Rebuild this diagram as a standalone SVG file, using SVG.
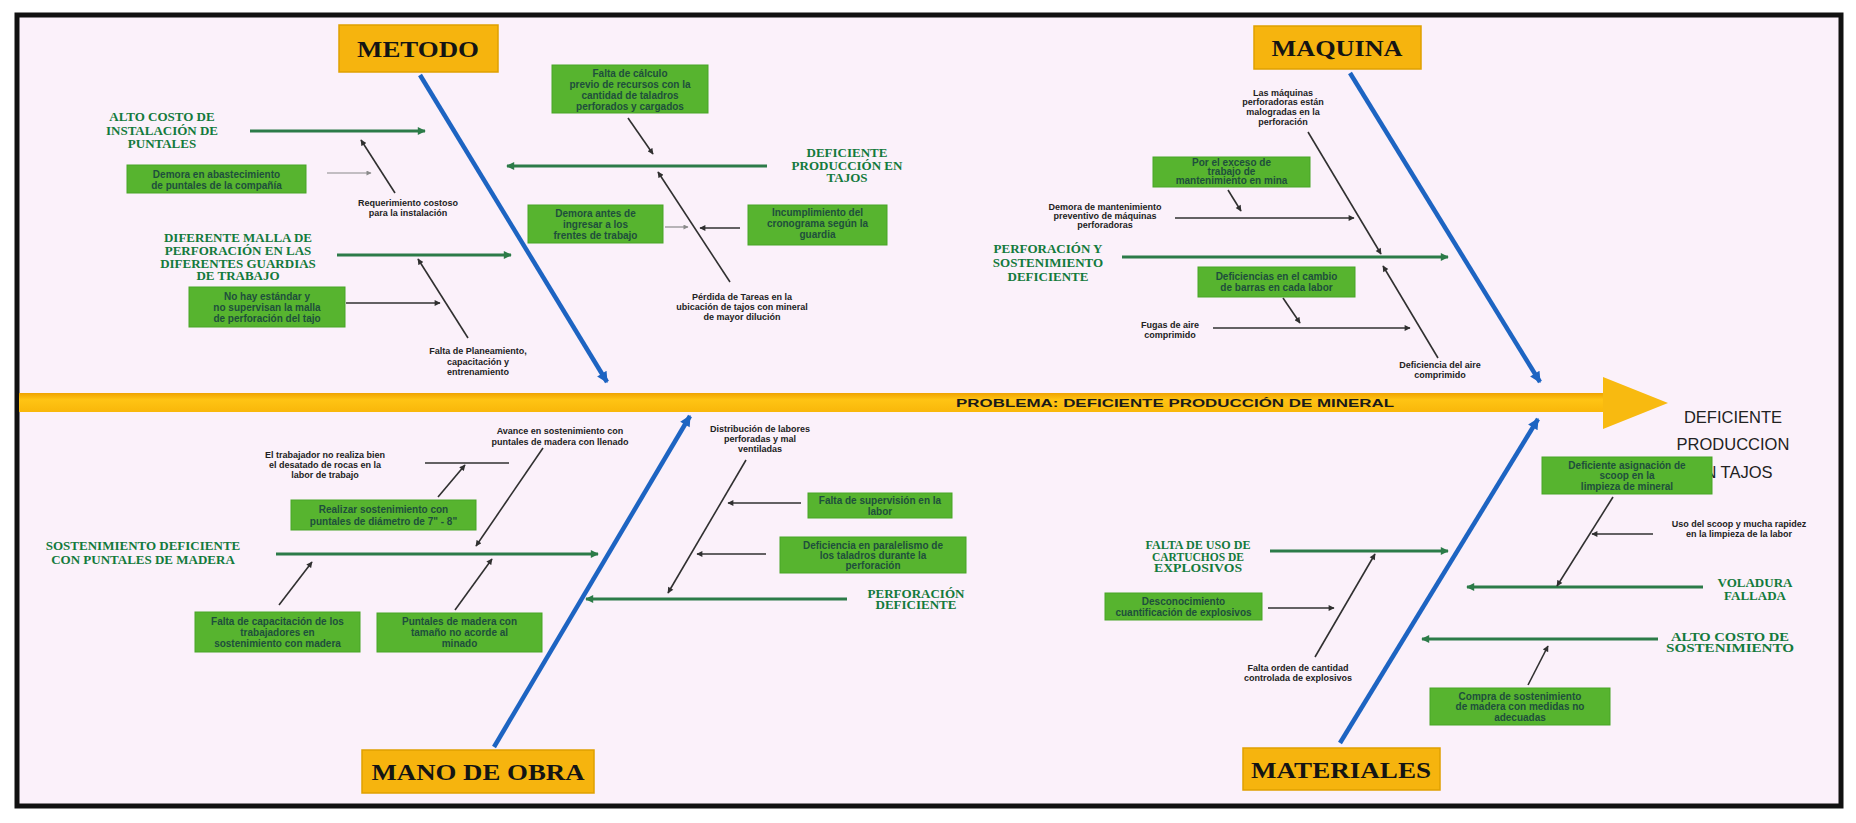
<svg xmlns="http://www.w3.org/2000/svg" width="1856" height="823" viewBox="0 0 1856 823">
  <defs>
    <style>
      .frame { fill: #FBF1FA; stroke: #111; stroke-width: 5; }
      .cat rect { fill: #F6B40E; stroke: #DFA000; stroke-width: 1.5; }
      .cat text { font-family: "Liberation Serif", "Times New Roman", serif; font-weight: bold; font-size: 24px; fill: #141414; text-anchor: middle; }
      .gb rect { fill: #57B42F; stroke: #49A526; stroke-width: 1; }
      .gb text { font-family: "Liberation Sans", Arial, sans-serif; font-weight: bold; font-size: 10px; fill: #1E4F3C; text-anchor: middle; }
      .lbl text { font-family: "Liberation Serif", "Times New Roman", serif; font-weight: bold; font-size: 13px; fill: #137A3C; text-anchor: middle; }
      .sm text { font-family: "Liberation Sans", Arial, sans-serif; font-weight: bold; font-size: 9px; fill: #222; text-anchor: middle; }
      .bone { stroke: #1D64C2; stroke-width: 4.5; fill: none; marker-end: url(#ab); }
      .br { stroke: #2C7B48; stroke-width: 3; fill: none; marker-end: url(#ag); }
      .sub { stroke: #303030; stroke-width: 1.6; fill: none; marker-end: url(#ak); }
      .plain { stroke: #303030; stroke-width: 1.6; fill: none; }
      .gr { stroke: #8A8A8A; stroke-width: 1.2; fill: none; marker-end: url(#agr); }
      .title text { font-family: "Liberation Sans", Arial, sans-serif; font-size: 16.5px; fill: #222; text-anchor: middle; }
    </style>
    <linearGradient id="spine" x1="0" y1="0" x2="0" y2="1">
      <stop offset="0" stop-color="#EFA300"/>
      <stop offset="0.35" stop-color="#FFC414"/>
      <stop offset="1" stop-color="#F9B70A"/>
    </linearGradient>
    <marker id="ab" viewBox="0 0 10 10" refX="9" refY="5" markerUnits="userSpaceOnUse" markerWidth="13" markerHeight="11" orient="auto">
      <path d="M0,0 L10,5 L0,10 z" fill="#1D64C2"/>
    </marker>
    <marker id="ag" viewBox="0 0 10 10" refX="9" refY="5" markerUnits="userSpaceOnUse" markerWidth="9" markerHeight="8" orient="auto">
      <path d="M0,0 L10,5 L0,10 z" fill="#2C7B48"/>
    </marker>
    <marker id="ak" viewBox="0 0 10 10" refX="9" refY="5" markerUnits="userSpaceOnUse" markerWidth="7" markerHeight="6" orient="auto">
      <path d="M0,0 L10,5 L0,10 z" fill="#303030"/>
    </marker>
    <marker id="agr" viewBox="0 0 10 10" refX="9" refY="5" markerUnits="userSpaceOnUse" markerWidth="6" markerHeight="5" orient="auto">
      <path d="M0,0 L10,5 L0,10 z" fill="#8A8A8A"/>
    </marker>
  </defs>

  <!-- page and frame -->
  <rect x="0" y="0" width="1856" height="823" fill="#FFFFFF"/>
  <rect class="frame" x="17" y="15" width="1824" height="791"/>

  <!-- main spine -->
  <g id="spine-arrow">
    <rect x="19" y="393" width="1586" height="19" fill="url(#spine)"/>
    <polygon points="1603,377 1668,403 1603,429" fill="#F8BA10"/>
    <text x="1175" y="407" text-anchor="middle" font-family="Liberation Sans, Arial, sans-serif" font-weight="bold" font-size="11" fill="#1a1a1a" textLength="438" lengthAdjust="spacingAndGlyphs">PROBLEMA: DEFICIENTE PRODUCCIÓN DE MINERAL</text>
  </g>

  <!-- effect -->
  <g id="efecto" class="title">
    <text x="1733" y="423">DEFICIENTE</text>
    <text x="1733" y="450">PRODUCCION</text>
    <text x="1733" y="478">EN TAJOS</text>
  </g>

  <!-- connectors -->
  <g id="connectors">
    <!-- category bones -->
    <line class="bone" x1="420" y1="75" x2="607" y2="382"/>
    <line class="bone" x1="1350" y1="73" x2="1540" y2="382"/>
    <line class="bone" x1="494" y1="747" x2="690" y2="416"/>
    <line class="bone" x1="1340" y1="743" x2="1538" y2="419"/>

    <!-- cause branches -->
    <line class="br" x1="250" y1="131" x2="425" y2="131"/>
    <line class="br" x1="337" y1="255" x2="511" y2="255"/>
    <line class="br" x1="767" y1="166" x2="507" y2="166"/>
    <line class="br" x1="1122" y1="257" x2="1448" y2="257"/>
    <line class="br" x1="276" y1="554" x2="598" y2="554"/>
    <line class="br" x1="847" y1="599" x2="586" y2="599"/>
    <line class="br" x1="1270" y1="551" x2="1448" y2="551"/>
    <line class="br" x1="1703" y1="587" x2="1467" y2="587"/>
    <line class="br" x1="1658" y1="639" x2="1422" y2="639"/>

    <!-- sub-causes: METODO -->
    <line class="gr" x1="327" y1="173" x2="371" y2="173"/>
    <line class="sub" x1="395" y1="193" x2="361" y2="140"/>
    <line class="sub" x1="346" y1="303" x2="440" y2="303"/>
    <line class="sub" x1="468" y1="338" x2="418" y2="259"/>
    <line class="sub" x1="628" y1="118" x2="653" y2="154"/>
    <line class="gr" x1="665" y1="227" x2="688" y2="227"/>
    <line class="sub" x1="740" y1="228" x2="700" y2="228"/>
    <line class="sub" x1="730" y1="282" x2="658" y2="172"/>

    <!-- sub-causes: MAQUINA -->
    <line class="sub" x1="1308" y1="132" x2="1381" y2="254"/>
    <line class="sub" x1="1228" y1="190" x2="1241" y2="211"/>
    <line class="sub" x1="1175" y1="218" x2="1354" y2="218"/>
    <line class="sub" x1="1283" y1="298" x2="1300" y2="323"/>
    <line class="sub" x1="1213" y1="328" x2="1410" y2="328"/>
    <line class="sub" x1="1438" y1="358" x2="1383" y2="266"/>

    <!-- sub-causes: MANO DE OBRA -->
    <line class="plain" x1="425" y1="463" x2="509" y2="463"/>
    <line class="sub" x1="438" y1="497" x2="465" y2="465"/>
    <line class="sub" x1="543" y1="448" x2="476" y2="546"/>
    <line class="sub" x1="279" y1="605" x2="312" y2="562"/>
    <line class="sub" x1="455" y1="610" x2="492" y2="559"/>
    <line class="sub" x1="746" y1="460" x2="668" y2="593"/>
    <line class="sub" x1="801" y1="503" x2="728" y2="503"/>
    <line class="sub" x1="766" y1="554" x2="697" y2="554"/>

    <!-- sub-causes: MATERIALES -->
    <line class="sub" x1="1315" y1="657" x2="1375" y2="554"/>
    <line class="sub" x1="1268" y1="608" x2="1334" y2="608"/>
    <line class="sub" x1="1613" y1="497" x2="1557" y2="586"/>
    <line class="sub" x1="1653" y1="534" x2="1592" y2="534"/>
    <line class="sub" x1="1528" y1="685" x2="1548" y2="646"/>
  </g>

  <!-- category heads -->
  <g id="cat-metodo" class="cat">
    <rect x="339" y="25" width="159" height="47"/>
    <text x="418" y="57" textLength="122" lengthAdjust="spacingAndGlyphs">METODO</text>
  </g>
  <g id="cat-maquina" class="cat">
    <rect x="1254" y="26" width="167" height="43"/>
    <text x="1337" y="56" textLength="131" lengthAdjust="spacingAndGlyphs">MAQUINA</text>
  </g>
  <g id="cat-mano-de-obra" class="cat">
    <rect x="362" y="750" width="232" height="43"/>
    <text x="478" y="780" textLength="213" lengthAdjust="spacingAndGlyphs">MANO DE OBRA</text>
  </g>
  <g id="cat-materiales" class="cat">
    <rect x="1243" y="748" width="197" height="42"/>
    <text x="1341" y="778" textLength="180" lengthAdjust="spacingAndGlyphs">MATERIALES</text>
  </g>

  <!-- main causes (green labels) -->
  <g id="causa-alto-costo-puntales" class="lbl">
    <text x="162" y="121">ALTO COSTO DE</text>
    <text x="162" y="134.5">INSTALACIÓN DE</text>
    <text x="162" y="148">PUNTALES</text>
  </g>
  <g id="causa-malla" class="lbl">
    <text x="238" y="241.5">DIFERENTE MALLA DE</text>
    <text x="238" y="254.5">PERFORACIÓN EN LAS</text>
    <text x="238" y="267.5">DIFERENTES GUARDIAS</text>
    <text x="238" y="280">DE TRABAJO</text>
  </g>
  <g id="causa-produccion-tajos" class="lbl">
    <text x="847" y="156.5">DEFICIENTE</text>
    <text x="847" y="169.5">PRODUCCIÓN EN</text>
    <text x="847" y="182">TAJOS</text>
  </g>
  <g id="causa-perforacion-sostenimiento" class="lbl">
    <text x="1048" y="253">PERFORACIÓN Y</text>
    <text x="1048" y="267">SOSTENIMIENTO</text>
    <text x="1048" y="281">DEFICIENTE</text>
  </g>
  <g id="causa-sostenimiento-madera" class="lbl">
    <text x="143" y="549.5">SOSTENIMIENTO DEFICIENTE</text>
    <text x="143" y="563.5">CON PUNTALES DE MADERA</text>
  </g>
  <g id="causa-perforacion" class="lbl">
    <text x="916" y="597.5">PERFORACIÓN</text>
    <text x="916" y="609">DEFICIENTE</text>
  </g>
  <g id="causa-explosivos" class="lbl">
    <text x="1198" y="549" font-size="8.5" textLength="105" lengthAdjust="spacingAndGlyphs">FALTA DE USO DE</text>
    <text x="1198" y="560.5" font-size="8.5" textLength="92" lengthAdjust="spacingAndGlyphs">CARTUCHOS DE</text>
    <text x="1198" y="572" font-size="8.5" textLength="88" lengthAdjust="spacingAndGlyphs">EXPLOSIVOS</text>
  </g>
  <g id="causa-voladura" class="lbl">
    <text x="1755" y="586.5">VOLADURA</text>
    <text x="1755" y="599.5">FALLADA</text>
  </g>
  <g id="causa-costo-sostenimiento" class="lbl">
    <text x="1730" y="640.5" font-size="10.5" textLength="118" lengthAdjust="spacingAndGlyphs">ALTO COSTO DE</text>
    <text x="1730" y="652" font-size="10.5" textLength="128" lengthAdjust="spacingAndGlyphs">SOSTENIMIENTO</text>
  </g>

  <!-- green sub-cause boxes -->
  <g id="sc-demora-abastecimiento" class="gb">
    <rect x="127" y="165" width="179" height="28"/>
    <text x="216.5" y="177.5">Demora en abastecimiento</text>
    <text x="216.5" y="188.5">de puntales de la compañía</text>
  </g>
  <g id="sc-no-estandar" class="gb">
    <rect x="189" y="287" width="156" height="40"/>
    <text x="267" y="299.5">No hay estándar y</text>
    <text x="267" y="310.5">no supervisan la malla</text>
    <text x="267" y="321.5">de perforación del tajo</text>
  </g>
  <g id="sc-calculo-recursos" class="gb">
    <rect x="552" y="65" width="156" height="48"/>
    <text x="630" y="76.5">Falta de cálculo</text>
    <text x="630" y="87.5">previo de recursos con la</text>
    <text x="630" y="98.5">cantidad de taladros</text>
    <text x="630" y="109.5">perforados y cargados</text>
  </g>
  <g id="sc-demora-ingreso" class="gb">
    <rect x="528" y="205" width="135" height="38"/>
    <text x="595.5" y="216.5">Demora antes de</text>
    <text x="595.5" y="227.5">ingresar a los</text>
    <text x="595.5" y="238.5">frentes de trabajo</text>
  </g>
  <g id="sc-incumplimiento" class="gb">
    <rect x="748" y="205" width="139" height="40"/>
    <text x="817.5" y="216">Incumplimiento del</text>
    <text x="817.5" y="227">cronograma según la</text>
    <text x="817.5" y="238">guardia</text>
  </g>
  <g id="sc-exceso-uso" class="gb">
    <rect x="1153" y="157" width="157" height="30"/>
    <text x="1231.5" y="166" font-size="9.5">Por el exceso de</text>
    <text x="1231.5" y="175" font-size="9.5">trabajo de</text>
    <text x="1231.5" y="184" font-size="9.5">mantenimiento en mina</text>
  </g>
  <g id="sc-cambio-barras" class="gb">
    <rect x="1198" y="267" width="157" height="30"/>
    <text x="1276.5" y="279.5">Deficiencias en el cambio</text>
    <text x="1276.5" y="291">de barras en cada labor</text>
  </g>
  <g id="sc-diametro-puntales" class="gb">
    <rect x="291" y="500" width="185" height="30"/>
    <text x="383.5" y="512.5">Realizar sostenimiento con</text>
    <text x="383.5" y="524.5">puntales de diámetro de 7" - 8"</text>
  </g>
  <g id="sc-capacitacion" class="gb">
    <rect x="195" y="612" width="165" height="40"/>
    <text x="277.5" y="624.5">Falta de capacitación de los</text>
    <text x="277.5" y="635.5">trabajadores en</text>
    <text x="277.5" y="646.5">sostenimiento con madera</text>
  </g>
  <g id="sc-puntales-tamano" class="gb">
    <rect x="377" y="613" width="165" height="39"/>
    <text x="459.5" y="624.5">Puntales de madera con</text>
    <text x="459.5" y="635.5">tamaño no acorde al</text>
    <text x="459.5" y="646.5">minado</text>
  </g>
  <g id="sc-supervision" class="gb">
    <rect x="808" y="493" width="144" height="25"/>
    <text x="880" y="504" font-size="9.5">Falta de supervisión en la</text>
    <text x="880" y="514.5" font-size="9.5">labor</text>
  </g>
  <g id="sc-paralelismo" class="gb">
    <rect x="780" y="537" width="186" height="36"/>
    <text x="873" y="548.5">Deficiencia en paralelismo de</text>
    <text x="873" y="558.5">los taladros durante la</text>
    <text x="873" y="568.5">perforación</text>
  </g>
  <g id="sc-desconocimiento" class="gb">
    <rect x="1105" y="593" width="157" height="27"/>
    <text x="1183.5" y="604.5" font-size="9.5">Desconocimiento</text>
    <text x="1183.5" y="615.5" font-size="9.5">cuantificación de explosivos</text>
  </g>
  <g id="sc-asignacion-scoop" class="gb">
    <rect x="1542" y="457" width="170" height="37"/>
    <text x="1627" y="468.5">Deficiente asignación de</text>
    <text x="1627" y="478.5">scoop en la</text>
    <text x="1627" y="489.5">limpieza de mineral</text>
  </g>
  <g id="sc-compra-sostenimiento" class="gb">
    <rect x="1430" y="688" width="180" height="37"/>
    <text x="1520" y="699.5">Compra de sostenimiento</text>
    <text x="1520" y="709.5">de madera con medidas no</text>
    <text x="1520" y="720.5">adecuadas</text>
  </g>

  <!-- small plain-text sub-causes -->
  <g id="st-requerimiento" class="sm">
    <text x="408" y="206">Requerimiento costoso</text>
    <text x="408" y="216">para la instalación</text>
  </g>
  <g id="st-planeamiento" class="sm">
    <text x="478" y="354">Falta de Planeamiento,</text>
    <text x="478" y="365">capacitación y</text>
    <text x="478" y="375">entrenamiento</text>
  </g>
  <g id="st-perdida-tareas" class="sm">
    <text x="742" y="300">Pérdida de Tareas en la</text>
    <text x="742" y="310">ubicación de tajos con mineral</text>
    <text x="742" y="320">de mayor dilución</text>
  </g>
  <g id="st-maquinas" class="sm">
    <text x="1283" y="96">Las máquinas</text>
    <text x="1283" y="105">perforadoras están</text>
    <text x="1283" y="115">malogradas en la</text>
    <text x="1283" y="125">perforación</text>
  </g>
  <g id="st-mantenimiento" class="sm">
    <text x="1105" y="210">Demora de mantenimiento</text>
    <text x="1105" y="219">preventivo de máquinas</text>
    <text x="1105" y="228">perforadoras</text>
  </g>
  <g id="st-fugas" class="sm">
    <text x="1170" y="328">Fugas de aire</text>
    <text x="1170" y="338">comprimido</text>
  </g>
  <g id="st-aire" class="sm">
    <text x="1440" y="368">Deficiencia del aire</text>
    <text x="1440" y="378">comprimido</text>
  </g>
  <g id="st-desatado" class="sm">
    <text x="325" y="458">El trabajador no realiza bien</text>
    <text x="325" y="468">el desatado de rocas en la</text>
    <text x="325" y="478">labor de trabajo</text>
  </g>
  <g id="st-avance" class="sm">
    <text x="560" y="434">Avance en sostenimiento con</text>
    <text x="560" y="445">puntales de madera con llenado</text>
  </g>
  <g id="st-distribucion" class="sm">
    <text x="760" y="432">Distribución de labores</text>
    <text x="760" y="442">perforadas y mal</text>
    <text x="760" y="452">ventiladas</text>
  </g>
  <g id="st-orden-explosivos" class="sm">
    <text x="1298" y="671">Falta orden de cantidad</text>
    <text x="1298" y="681">controlada de explosivos</text>
  </g>
  <g id="st-uso-scoop" class="sm">
    <text x="1739" y="527">Uso del scoop y mucha rapidez</text>
    <text x="1739" y="537">en la limpieza de la labor</text>
  </g>
</svg>
